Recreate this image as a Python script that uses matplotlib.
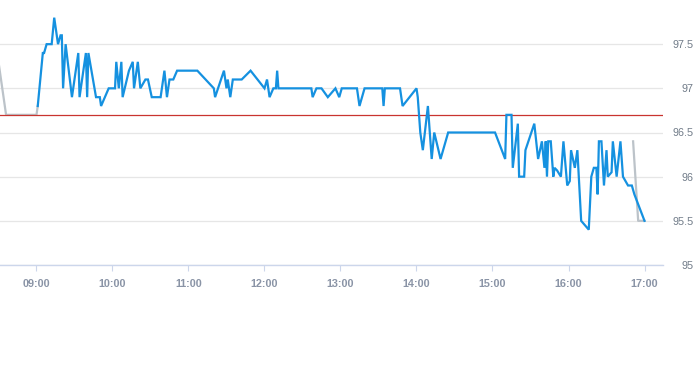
import matplotlib
matplotlib.use("Agg")
import matplotlib.pyplot as plt
import pandas as pd

DAY = "2024-01-02 "

# Extended-hours (grey) series: pre-market and post-market
pre_times = ["08:30", "08:36", "09:00", "09:01"]
pre_values = [97.3, 96.7, 96.7, 96.8]
post_times = ["16:51", "16:55", "17:00"]
post_values = [96.4, 95.5, 95.5]

# Regular session (blue) series
times = [
    "09:01", "09:05", "09:06", "09:08", "09:12", "09:14", "09:17", "09:19", "09:20", "09:21",
    "09:23", "09:28", "09:33", "09:34", "09:39", "09:40", "09:41", "09:47", "09:50", "09:51",
    "09:57", "10:02", "10:03", "10:05", "10:07", "10:08", "10:13", "10:16", "10:17", "10:20",
    "10:22", "10:26", "10:28", "10:31", "10:38", "10:41", "10:43", "10:45", "10:48", "10:51",
    "11:07", "11:20", "11:21", "11:28", "11:30", "11:31", "11:33", "11:35", "11:42", "11:49",
    "12:00", "12:02", "12:04", "12:07", "12:09", "12:10", "12:11", "12:37", "12:38", "12:41",
    "12:45", "12:50", "12:56", "12:59", "13:01", "13:13", "13:15", "13:19", "13:33", "13:34",
    "13:35", "13:47", "13:49", "14:00", "14:01", "14:03", "14:05", "14:09", "14:12", "14:14",
    "14:19", "14:25", "15:02", "15:10", "15:11", "15:15", "15:16", "15:20", "15:21", "15:25",
    "15:26", "15:33", "15:36", "15:39", "15:41", "15:42", "15:43", "15:44", "15:46", "15:48",
    "15:49", "15:51", "15:54", "15:56", "15:59", "16:01", "16:02", "16:05", "16:07", "16:10",
    "16:16", "16:18", "16:20", "16:22", "16:23", "16:24", "16:26", "16:28", "16:30", "16:31",
    "16:34", "16:35", "16:38", "16:41", "16:43", "16:47", "16:50", "16:52", "17:00",
]
values = [
    96.8, 97.4, 97.4, 97.5, 97.5, 97.8, 97.5, 97.6, 97.6, 97.0,
    97.5, 96.9, 97.4, 96.9, 97.4, 96.9, 97.4, 96.9, 96.9, 96.8,
    97.0, 97.0, 97.3, 97.0, 97.3, 96.9, 97.2, 97.3, 97.0, 97.3,
    97.0, 97.1, 97.1, 96.9, 96.9, 97.2, 96.9, 97.1, 97.1, 97.2,
    97.2, 97.0, 96.9, 97.2, 97.0, 97.1, 96.9, 97.1, 97.1, 97.2,
    97.0, 97.1, 96.9, 97.0, 97.0, 97.2, 97.0, 97.0, 96.9, 97.0,
    97.0, 96.9, 97.0, 96.9, 97.0, 97.0, 96.8, 97.0, 97.0, 96.8,
    97.0, 97.0, 96.8, 97.0, 96.9, 96.5, 96.3, 96.8, 96.2, 96.5,
    96.2, 96.5, 96.5, 96.2, 96.7, 96.7, 96.1, 96.6, 96.0, 96.0,
    96.3, 96.6, 96.2, 96.4, 96.1, 96.4, 96.0, 96.4, 96.4, 96.0,
    96.1, 96.07, 96.0, 96.4, 95.9, 95.95, 96.3, 96.1, 96.3, 95.5,
    95.4, 96.0, 96.1, 96.1, 95.8, 96.4, 96.4, 95.9, 96.3, 96.0,
    96.05, 96.4, 96.0, 96.4, 96.0, 95.9, 95.9, 95.8, 95.5,
]

prev_close = 96.7
y_ticks = [95, 95.5, 96, 96.5, 97, 97.5]
y_labels = ["95", "95.5", "96", "96.5", "97", "97.5"]
x_ticks = ["09:00", "10:00", "11:00", "12:00", "13:00", "14:00", "15:00", "16:00", "17:00"]


def to_dt(lst):
    return pd.to_datetime([DAY + t for t in lst])


W, H = 693, 365
fig = plt.figure(figsize=(W / 100, H / 100), dpi=100)
ax = fig.add_axes([0, 1 - 265 / H, 663 / W, 265 / H])

# grey extended-hours lines
ax.plot(to_dt(pre_times), pre_values, color="#bcc3c9", lw=1.6, zorder=2,
        solid_joinstyle="miter")
ax.plot(to_dt(post_times), post_values, color="#bcc3c9", lw=1.6, zorder=2)

# main line
ax.plot(to_dt(times), values, color="#1591e0", lw=1.6, zorder=3, solid_joinstyle="miter")

# previous close
ax.axhline(prev_close, color="#c9342f", lw=0.9, zorder=2.5)

ax.set_xlim(pd.Timestamp(DAY + "08:31:12"), pd.Timestamp(DAY + "17:14:36"))
ax.set_ylim(95, 98)

ax.set_xticks(to_dt(x_ticks))
ax.set_xticklabels(x_ticks)
ax.set_yticks(y_ticks)
ax.set_yticklabels(y_labels)

ax.yaxis.tick_right()
ax.grid(axis="y", color="#e6e6e6", lw=0.9)
ax.set_axisbelow(True)
for s in ["top", "left", "right"]:
    ax.spines[s].set_visible(False)
ax.spines["bottom"].set_color("#ccd6eb")
ax.spines["bottom"].set_linewidth(1.0)

ax.tick_params(axis="x", length=4, width=0.8, color="#ccd6eb", pad=6,
               labelsize=7.8, labelcolor="#8a94a6")
ax.tick_params(axis="y", length=0, pad=21.8, labelsize=7.8, labelcolor="#707b88")
for lab in ax.get_xticklabels():
    lab.set_fontfamily("Liberation Sans")
    lab.set_fontweight("bold")
for lab in ax.get_yticklabels():
    lab.set_fontfamily("Liberation Sans")
    lab.set_horizontalalignment("right")

fig.savefig("out.png", dpi=100)
